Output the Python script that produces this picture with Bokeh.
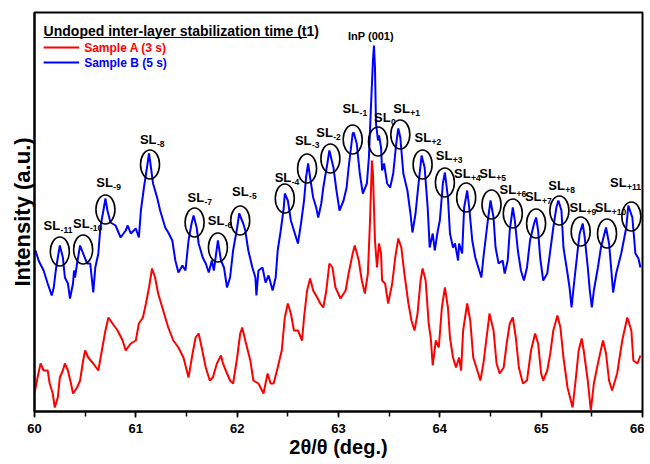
from bokeh.plotting import figure
from bokeh.models import Range1d, SingleIntervalTicker, FixedTicker
from bokeh.core.properties import value
from bokeh.embed import file_html
from bokeh.resources import INLINE

# ---------------- data ----------------
blue_x = [60.01, 60.04, 60.09, 60.13, 60.17, 60.19, 60.21, 60.23, 60.25, 60.28, 60.30, 60.33, 60.35, 60.38, 60.39,
          60.40, 60.42, 60.45, 60.48, 60.52, 60.55, 60.58, 60.60, 60.63, 60.65, 60.68, 60.70, 60.72, 60.75, 60.80,
          60.85, 60.90, 60.92, 60.95, 61.00, 61.03, 61.05, 61.08, 61.11, 61.13, 61.14, 61.17, 61.21, 61.24, 61.29,
          61.32, 61.36, 61.39, 61.42, 61.46, 61.49, 61.52, 61.55, 61.57, 61.60, 61.62, 61.66, 61.69, 61.72, 61.75,
          61.77, 61.81, 61.84, 61.87, 61.90, 61.93, 61.96, 62.00, 62.02, 62.06, 62.08, 62.11, 62.15, 62.18, 62.19,
          62.21, 62.25, 62.28, 62.31, 62.35, 62.38, 62.40, 62.43, 62.46, 62.47, 62.50, 62.53, 62.56, 62.60, 62.63,
          62.66, 62.68, 62.70, 62.72, 62.75, 62.78, 62.80, 62.83, 62.85, 62.89, 62.91, 62.95, 62.98, 63.01, 63.05,
          63.08, 63.10, 63.14, 63.15, 63.18, 63.21, 63.24, 63.28, 63.30, 63.32, 63.34, 63.35, 63.36, 63.37, 63.39,
          63.40, 63.42, 63.43, 63.45, 63.48, 63.51, 63.54, 63.57, 63.59, 63.61, 63.64, 63.68, 63.71, 63.73, 63.76,
          63.79, 63.82, 63.85, 63.88, 63.90, 63.93, 63.95, 63.98, 64.00, 64.03, 64.05, 64.08, 64.10, 64.13, 64.15,
          64.18, 64.19, 64.22, 64.24, 64.27, 64.29, 64.32, 64.35, 64.38, 64.41, 64.43, 64.47, 64.50, 64.53, 64.55,
          64.58, 64.62, 64.64, 64.67, 64.69, 64.72, 64.74, 64.77, 64.80, 64.83, 64.86, 64.89, 64.93, 64.95, 64.97,
          64.99, 65.02, 65.06, 65.09, 65.12, 65.15, 65.17, 65.20, 65.22, 65.26, 65.28, 65.30, 65.32, 65.36, 65.38,
          65.41, 65.43, 65.46, 65.48, 65.50, 65.52, 65.56, 65.59, 65.64, 65.67, 65.69, 65.71, 65.74, 65.79, 65.84,
          65.86, 65.90, 65.93, 65.96, 65.98]
blue_y = [161, 151, 141, 128, 116, 124, 141, 154, 166, 154, 134, 128, 113, 128, 141,
          134, 148, 166, 158, 148, 148, 119, 144, 158, 184, 201, 213, 201, 189, 186,
          174, 181, 186, 178, 183, 174, 201, 224, 244, 258, 251, 228, 214, 201, 184,
          179, 171, 151, 139, 146, 141, 171, 188, 196, 184, 168, 154, 148, 139, 151,
          141, 171, 151, 144, 124, 134, 161, 184, 198, 188, 181, 161, 144, 134, 116,
          141, 144, 129, 136, 121, 134, 161, 181, 204, 218, 211, 191, 181, 168, 188,
          211, 234, 248, 234, 214, 204, 194, 208, 224, 248, 261, 244, 221, 201, 211,
          224, 244, 278, 279, 268, 238, 218, 228, 254, 304, 351, 366, 344, 288, 271,
          276, 264, 241, 248, 228, 224, 238, 268, 283, 274, 238, 221, 198, 179, 198,
          228, 256, 244, 204, 164, 178, 161, 181, 191, 228, 239, 214, 178, 164, 168,
          151, 168, 158, 204, 221, 204, 171, 154, 144, 134, 154, 188, 211, 194, 164,
          148, 151, 138, 151, 181, 204, 191, 161, 141, 131, 144, 171, 188, 194, 181,
          154, 131, 138, 161, 184, 204, 211, 201, 164, 138, 124, 104, 124, 161, 178,
          188, 174, 144, 121, 104, 121, 144, 164, 184, 168, 144, 119, 138, 158, 184,
          206, 194, 158, 153, 144]

red_x = [60.00, 60.03, 60.06, 60.09, 60.13, 60.15, 60.18, 60.20, 60.23, 60.25, 60.28, 60.30, 60.33, 60.36, 60.38,
         60.42, 60.45, 60.48, 60.50, 60.53, 60.58, 60.63, 60.67, 60.70, 60.73, 60.77, 60.82, 60.87, 60.90, 60.95,
         61.00, 61.03, 61.07, 61.10, 61.13, 61.16, 61.19, 61.22, 61.27, 61.32, 61.37, 61.42, 61.47, 61.52, 61.56,
         61.59, 61.62, 61.65, 61.69, 61.73, 61.76, 61.80, 61.84, 61.86, 61.90, 61.93, 61.96, 62.00, 62.03, 62.05,
         62.08, 62.13, 62.16, 62.21, 62.26, 62.30, 62.33, 62.36, 62.40, 62.44, 62.47, 62.50, 62.53, 62.56, 62.60,
         62.64, 62.66, 62.69, 62.72, 62.75, 62.79, 62.82, 62.85, 62.88, 62.91, 62.94, 62.97, 63.02, 63.07, 63.10,
         63.14, 63.16, 63.20, 63.23, 63.26, 63.29, 63.31, 63.33, 63.34, 63.36, 63.38, 63.40, 63.42, 63.43, 63.46,
         63.49, 63.53, 63.56, 63.59, 63.62, 63.65, 63.69, 63.72, 63.75, 63.78, 63.81, 63.83, 63.86, 63.89, 63.91,
         63.93, 63.96, 63.99, 64.02, 64.05, 64.08, 64.10, 64.13, 64.16, 64.19, 64.21, 64.23, 64.27, 64.30, 64.33,
         64.37, 64.40, 64.43, 64.47, 64.49, 64.53, 64.56, 64.59, 64.63, 64.66, 64.69, 64.72, 64.75, 64.78, 64.82,
         64.86, 64.90, 64.94, 64.97, 65.00, 65.02, 65.06, 65.09, 65.12, 65.16, 65.19, 65.22, 65.26, 65.31, 65.34,
         65.37, 65.40, 65.42, 65.46, 65.49, 65.52, 65.56, 65.61, 65.64, 65.67, 65.70, 65.75, 65.80, 65.85, 65.89,
         65.91, 65.95, 65.98]
red_y = [18, 34, 48, 41, 41, 28, 18, 4, 14, 34, 41, 48, 41, 28, 18,
         24, 31, 51, 61, 54, 48, 41, 64, 81, 94, 88, 81, 71, 61, 68,
         71, 88, 94, 108, 124, 143, 134, 118, 101, 84, 71, 64, 54, 34, 58,
         74, 78, 64, 44, 31, 34, 48, 56, 48, 38, 31, 28, 54, 78, 84,
         71, 51, 31, 28, 18, 38, 28, 28, 44, 61, 94, 108, 98, 81, 81,
         71, 94, 121, 133, 121, 114, 108, 104, 121, 148, 144, 124, 113, 121, 138,
         158, 166, 151, 131, 118, 138, 188, 251, 238, 171, 144, 168, 158, 131, 128,
         108, 128, 154, 173, 164, 138, 108, 91, 81, 98, 131, 143, 131, 88, 74,
         46, 71, 64, 104, 124, 104, 74, 54, 44, 54, 41, 81, 108, 91, 54,
         41, 31, 48, 81, 98, 81, 48, 38, 44, 68, 88, 94, 74, 44, 28,
         31, 61, 78, 68, 38, 31, 41, 58, 81, 96, 84, 54, 24, 4, 31,
         61, 73, 61, 31, 1, 28, 48, 71, 58, 31, 21, 38, 71, 94, 81,
         51, 48, 56]

# superlattice satellite peaks: subscript, circle centre, label position
sl_sub = ["-11", "-10", "-9", "-8", "-7", "-6", "-5", "-4", "-3", "-2", "-1", "0",
          "+1", "+2", "+3", "+4", "+5", "+6", "+7", "+8", "+9", "+10", "+11"]
sl_peak_x = [60.25, 60.48, 60.70, 61.14, 61.58, 61.81, 62.03, 62.47, 62.69, 62.92, 63.14, 63.39,
             63.61, 63.83, 64.05, 64.26, 64.51, 64.72, 64.95, 65.18, 65.39, 65.65, 65.89]
sl_peak_y = [160, 162, 202, 247, 189, 164, 191, 213, 243, 253, 272, 270,
             277, 247, 229, 214, 207, 198, 188, 201, 180, 178, 195]
sl_label_x = [60.09, 60.38, 60.61, 61.04, 61.51, 61.71, 61.95, 62.37, 62.57, 62.78, 63.04, 63.35,
              63.54, 63.75, 63.96, 64.14, 64.39, 64.59, 64.84, 65.07, 65.28, 65.53, 65.68]
sl_label_y = [186, 188, 229, 272, 214, 191, 220, 234, 271, 279, 303, 294,
              303, 274, 256, 238, 238, 222, 215, 226, 204, 204, 229]

inp_label = "InP (001)"
inp_x, inp_y = 63.32, 376

legend_title = "Undoped inter-layer stabilization time (t1)"
legend_labels = ["Sample A (3 s)", "Sample B (5 s)"]
legend_colors = ["#ff0000", "#0000ff"]

FONT = "Liberation Sans"

p = figure(width=644, height=464, output_backend="svg", toolbar_location=None,
           x_range=Range1d(60, 66), y_range=Range1d(0, 399),
           min_border_left=34, min_border_right=2, min_border_top=12, min_border_bottom=53)
p.grid.visible = False
p.outline_line_color = "black"
p.outline_line_width = 2
p.background_fill_color = "white"
p.border_fill_color = "white"

xa = p.xaxis[0]
xa.ticker = SingleIntervalTicker(interval=1, num_minor_ticks=2)
xa.major_tick_in = 0
xa.major_tick_out = 6
xa.minor_tick_in = 0
xa.minor_tick_out = 5
xa.axis_line_width = 2
xa.major_tick_line_width = 1.5
xa.minor_tick_line_width = 1.5
xa.major_label_text_font = FONT
xa.major_label_text_font_style = "bold"
xa.major_label_text_font_size = "13px"
xa.major_label_text_color = "black"
xa.major_label_standoff = 6
xa.axis_label = "2θ/θ (deg.)"
xa.axis_label_text_font = FONT
xa.axis_label_text_font_style = "bold"
xa.axis_label_text_font_size = "20px"
xa.axis_label_text_color = "black"
xa.axis_label_standoff = 0

ya = p.yaxis[0]
ya.ticker = FixedTicker(ticks=[], minor_ticks=[])
ya.axis_line_width = 2
ya.axis_label = "Intensity (a.u.)"
ya.axis_label_text_font = FONT
ya.axis_label_text_font_style = "bold"
ya.axis_label_text_font_size = "22px"
ya.axis_label_text_color = "black"
ya.axis_label_standoff = 0

# spectra
p.line(red_x, red_y, line_color="#ff0000", line_width=2)
p.line(blue_x, blue_y, line_color="#0000ff", line_width=2)

# satellite annotations
p.ellipse(x=sl_peak_x, y=sl_peak_y, width=19, height=29, width_units="screen", height_units="screen",
          fill_color=None, line_color="black", line_width=1.6)
p.text(x=sl_label_x, y=sl_label_y, text=["SL"] * len(sl_sub), text_font=value(FONT),
       text_font_style="bold", text_font_size="13px", text_baseline="middle", text_align="left",
       text_color="black")
p.text(x=sl_label_x, y=sl_label_y, text=sl_sub, text_font=value(FONT), x_offset=17, y_offset=4,
       text_font_style="bold", text_font_size="8.5px", text_baseline="middle", text_align="left",
       text_color="black")
p.text(x=[inp_x], y=[inp_y], text=[inp_label], text_font=value(FONT), text_font_style="bold",
       text_font_size="11px", text_baseline="middle", text_align="center", text_color="black")

# legend (drawn by hand)
p.text(x=[60.09], y=[381], text=[legend_title], text_font=value(FONT), text_font_style="bold",
       text_font_size="14px", text_baseline="middle", text_align="left", text_color="black")
p.segment(x0=[60.09], y0=[374], x1=[62.69], y1=[374], line_color="black", line_width=1)
for i, (lab, col) in enumerate(zip(legend_labels, legend_colors)):
    yy = 364 - 15 * i
    p.line([60.09, 60.44], [yy, yy], line_color=col, line_width=2)
    p.text(x=[60.49], y=[yy], text=[lab], text_font=value(FONT), text_font_style="bold",
           text_font_size="12px", text_baseline="middle", text_align="left", text_color=col)

open("out.html", "w").write(file_html(p, INLINE))
